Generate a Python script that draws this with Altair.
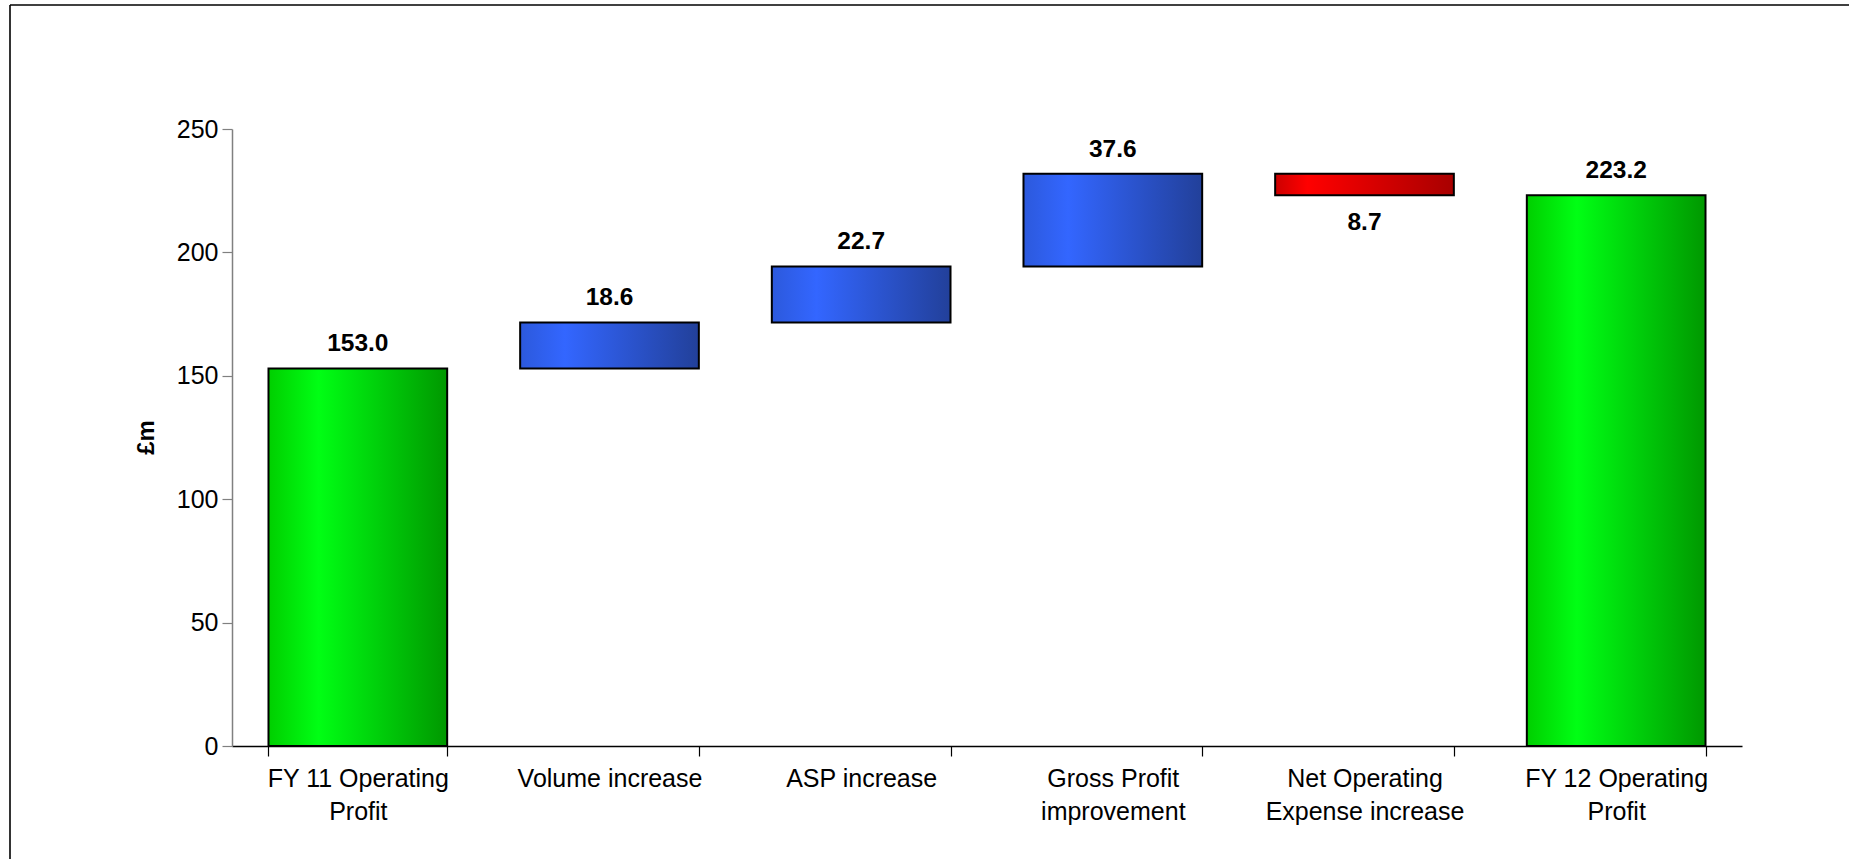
import altair as alt
import pandas as pd

# ---- data ----
categories = ["FY 11 Operating|Profit", "Volume increase", "ASP increase",
              "Gross Profit|improvement", "Net Operating|Expense increase",
              "FY 12 Operating|Profit"]
values = [153.0, 18.6, 22.7, 37.6, -8.7, 223.2]
kinds = ["total", "increase", "increase", "increase", "decrease", "total"]
y_ticks = [0, 50, 100, 150, 200, 250]

rows = []
running = 0.0
for cat, v, k in zip(categories, values, kinds):
    if k == "total":
        start, end = 0.0, v
        running = v
    else:
        start, end = running, running + v
        running = end
    rows.append({"cat": cat, "start": start, "end": end,
                 "top": max(start, end), "bottom": min(start, end),
                 "kind": k, "label": f"{abs(v):.1f}"})
df = pd.DataFrame(rows)

FONT = "Liberation Sans"
W, H = 1510, 617
PAD_L, PAD_T = 232, 129

def grad(stops):
    return alt.Gradient(gradient="linear", x1=0, x2=1, y1=0, y2=0,
                        stops=[alt.GradientStop(offset=o, color=c) for o, c in stops])

green = grad([(0, "#00cf00"), (0.28, "#00ff14"), (1, "#009800")])
blue = grad([(0, "#2c59dc"), (0.25, "#3366ff"), (1, "#22409a")])
red = grad([(0, "#cc0000"), (0.18, "#ff0000"), (1, "#a80000")])

x_enc = alt.X("cat:N", sort=categories, title=None,
              scale=alt.Scale(paddingInner=0.29, paddingOuter=0.145),
              axis=alt.Axis(labelExpr="split(datum.label, '|')", labelAngle=0,
                            labelFont=FONT, labelFontSize=25, labelColor="black",
                            labelLineHeight=33, labelPadding=10, labelLimit=1000,
                            tickBand="extent", tickSize=10, tickColor="black",
                            domainColor="black", domainWidth=1.5, tickWidth=1.2,
                            labelBaseline="top"))
y_enc = alt.Y("start:Q", title="£m",
              scale=alt.Scale(domain=[0, 250], nice=False, zero=True),
              axis=alt.Axis(values=y_ticks, grid=False, labelFont=FONT,
                            labelFontSize=25, labelColor="black", labelPadding=4,
                            tickSize=10, tickColor="#808080", domainColor="#808080",
                            domainWidth=1.5, tickWidth=1.2,
                            titleFont=FONT, titleFontSize=24, titleFontWeight="bold",
                            titleColor="black", titleAngle=270, titleX=-86,
                            titleY=308, titleAlign="center", titleBaseline="middle"))

base = alt.Chart(df)

def bars(kind, fill):
    return base.transform_filter(alt.datum.kind == kind).mark_bar(
        color=fill, stroke="black", strokeWidth=2
    ).encode(x=x_enc, y=y_enc, y2="end:Q")

labels_up = base.transform_filter(alt.datum.kind != "decrease").mark_text(
    font=FONT, fontSize=24.5, fontWeight="bold", color="black",
    baseline="alphabetic", dy=-17
).encode(x=alt.X("cat:N", sort=categories), y="top:Q", text="label:N")

labels_down = base.transform_filter(alt.datum.kind == "decrease").mark_text(
    font=FONT, fontSize=24.5, fontWeight="bold", color="black",
    baseline="alphabetic", dy=35
).encode(x=alt.X("cat:N", sort=categories), y="bottom:Q", text="label:N")

one = pd.DataFrame({"f": [0]})
frame_left = alt.Chart(one).mark_rule(color="black", strokeWidth=1.6).encode(
    x=alt.value(10 - PAD_L), y=alt.value(5 - PAD_T), y2=alt.value(859 - PAD_T + 30))
frame_top = alt.Chart(one).mark_rule(color="black", strokeWidth=1.6).encode(
    x=alt.value(10 - PAD_L), x2=alt.value(1849 - PAD_L + 30), y=alt.value(5 - PAD_T))

chart = alt.layer(
    frame_left, frame_top,
    bars("total", green), bars("increase", blue), bars("decrease", red),
    labels_up, labels_down
).properties(
    width=W, height=H,
    autosize=alt.AutoSizeParams(type="none"),
    padding={"left": PAD_L, "top": PAD_T, "right": 1849 - PAD_L - W,
             "bottom": 859 - PAD_T - H},
    background="white"
).configure_view(stroke=None)

chart.save("out.html", embed_options={"renderer": "svg", "actions": False})
